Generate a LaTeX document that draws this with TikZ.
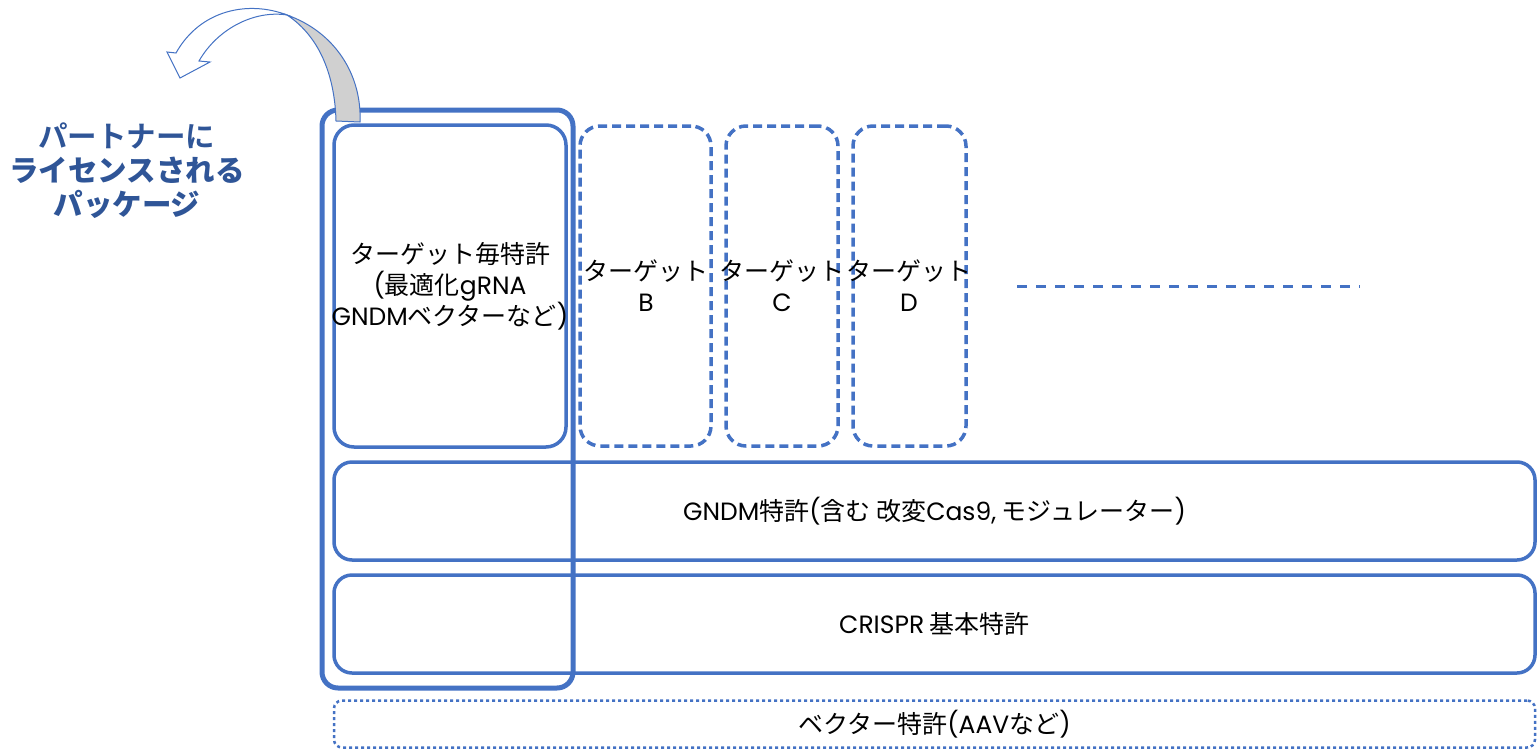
\documentclass[tikz,border=0pt]{standalone}
\usepackage{fontspec}
\setmainfont{Noto Sans CJK JP}
\newfontfamily\cjkb{Noto Sans CJK JP}[BoldFont={* Bold}]
\newfontfamily\latf{Poppins}
\newcommand{\lt}[1]{{\latf #1}}
\definecolor{pblue}{HTML}{4472C4}
\definecolor{tblue}{HTML}{2F5597}
\definecolor{agrey}{HTML}{D0D0D0}
\begin{document}
\begin{tikzpicture}[x=1pt,y=-1pt,
  solidbox/.style={draw=pblue, line width=3.5pt, rounded corners=20pt, inner sep=0pt},
  dashbox/.style={draw=pblue, line width=3.5pt, rounded corners=20pt, inner sep=0pt, dash pattern=on 9pt off 5pt},
  dotbox/.style={draw=pblue, line width=2.5pt, rounded corners=8pt, inner sep=0pt, dash pattern=on 3pt off 3pt},
  outerbox/.style={draw=pblue, line width=5pt, rounded corners=16pt, inner sep=0pt},
  lbl/.style={font=\fontsize{25}{31}\selectfont, align=center, text=black, inner sep=0pt},
  ttl/.style={font=\fontsize{29.5}{34}\selectfont\bfseries, align=center, text=tblue, inner sep=0pt}
]
\useasboundingbox (0,0) rectangle (1537,750);

% outer package box
\node[outerbox, minimum width=251pt, minimum height=578pt] (pkg) at (447.5,399) {};

% target boxes
\node[solidbox, minimum width=232pt, minimum height=322pt] (A) at (450,286) {};
\node[dashbox, minimum width=131pt, minimum height=320pt] (B) at (645.5,286) {};
\node[dashbox, minimum width=112pt, minimum height=320pt] (C) at (782,286) {};
\node[dashbox, minimum width=113pt, minimum height=320pt] (D) at (909.5,286) {};

\node[lbl] (At) at (A.center) {ターゲット毎特許\\\lt{(}最適化\lt{gRNA}\\\lt{GNDM}ベクターなど\lt{)}};
\node[lbl] (Bt) at (646,286) {ターゲット\\\lt{B}};
\node[lbl] (Ct) at (782,286) {ターゲット\\\lt{C}};
\node[lbl] (Dt) at (909,286) {ターゲット\\\lt{D}};

% continuation line
\coordinate (l1) at (1017,286);
\coordinate (l2) at (1360,286);
\draw[pblue, line width=3pt, dash pattern=on 10pt off 9pt] (l1) -- (l2);

% layer boxes
\node[solidbox, rounded corners=18pt, minimum width=1201pt, minimum height=98pt] (G) at (934.5,511) {};
\node[lbl] (Gt) at (G.center) {\lt{GNDM}特許\lt{(}含む 改変\lt{Cas9,} モジュレーター\lt{)}};
\node[solidbox, rounded corners=18pt, minimum width=1201pt, minimum height=98pt] (Cr) at (934.5,624) {};
\node[lbl] (Crt) at (Cr.center) {\lt{CRISPR} 基本特許};
\node[dotbox, minimum width=1201pt, minimum height=47pt] (V) at (934.5,724) {};
\node[lbl] (Vt) at (V.center) {ベクター特許\lt{(AAV}など\lt{)}};

% title text
\node[ttl] (T) at (127,171) {\cjkb\bfseries パートナーに\\ライセンスされる\\パッケージ};

% curved arrow
\fill[agrey, draw=pblue, line width=1pt] (287,15) .. controls (335,32) and (362,75) .. (360,122)
  -- (336,121) .. controls (335,80) and (322,38) .. (287,15) -- cycle;
\filldraw[fill=white, draw=pblue, line width=1pt]
  (287,15) .. controls (248,0) and (200,10) .. (176,53)
  -- (167,52) -- (180,78) -- (210,62) -- (199,61)
  .. controls (218,28) and (255,10) .. (287,15) -- cycle;
\end{tikzpicture}
\end{document}
